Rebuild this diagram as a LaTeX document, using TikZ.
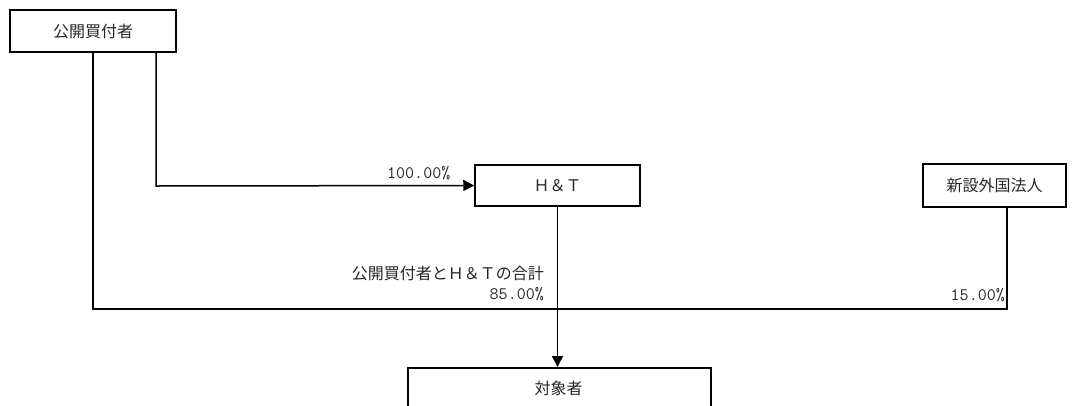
\documentclass[tikz,border=0pt]{standalone}
\usepackage{fontspec}
\newfontfamily\jp{Noto Sans CJK JP}
\usetikzlibrary{arrows.meta}
\begin{document}
\begin{tikzpicture}[x=1pt,y=-1pt,
  box/.style={draw=black,line width=1.5pt,rectangle,inner sep=0pt,font=\jp\fontsize{16}{18}\selectfont,text=black!85},
  conn/.style={draw=black,line width=1.5pt},
  arr/.style={conn,-{Triangle[length=11pt,width=11pt]}},
  pct/.style={font=\ttfamily\fontsize{17.5}{19}\selectfont,text=black!85,inner sep=0pt},
  lbl/.style={font=\jp\fontsize{16}{18}\selectfont,text=black!85,inner sep=0pt}]
\clip (0,0) rectangle (1076,405);
\useasboundingbox (0,0) rectangle (1076,405);
\node[box,minimum width=166pt,minimum height=42pt] (buyer) at (93,31) {公開買付者};
\node[box,minimum width=165pt,minimum height=41pt] (ht) at (557.5,185.5) {Ｈ＆Ｔ};
\node[box,minimum width=143pt,minimum height=43pt] (newco) at (994.5,185.5) {新設外国法人};
\node[box,minimum width=303pt,minimum height=70pt,anchor=north west] (target) at (407,367) {};
\node[lbl,anchor=center] (tlabel) at (558.5,388) {対象者};
\coordinate (b1) at (93,309);
\coordinate (b2) at (1007,309);
\coordinate (c1) at (156,186);
\draw[conn] (buyer.south) -- (b1) -- (b2) -- (b2 |- newco.south);
\draw[arr] (c1 |- buyer.south) -- (c1) -- (ht.west);
\draw[arr] (ht.south) -- (ht.south |- target.north);
\node[pct,anchor=base west] (p100) at (387,178) {100.00\%};
\node[pct,anchor=base east] (p15) at (1005,300) {15.00\%};
\node[lbl,anchor=base east] (sum) at (544,279) {公開買付者とＨ＆Ｔの合計};
\node[pct,anchor=base east] (p85) at (544,299) {85.00\%};
\end{tikzpicture}
\end{document}
